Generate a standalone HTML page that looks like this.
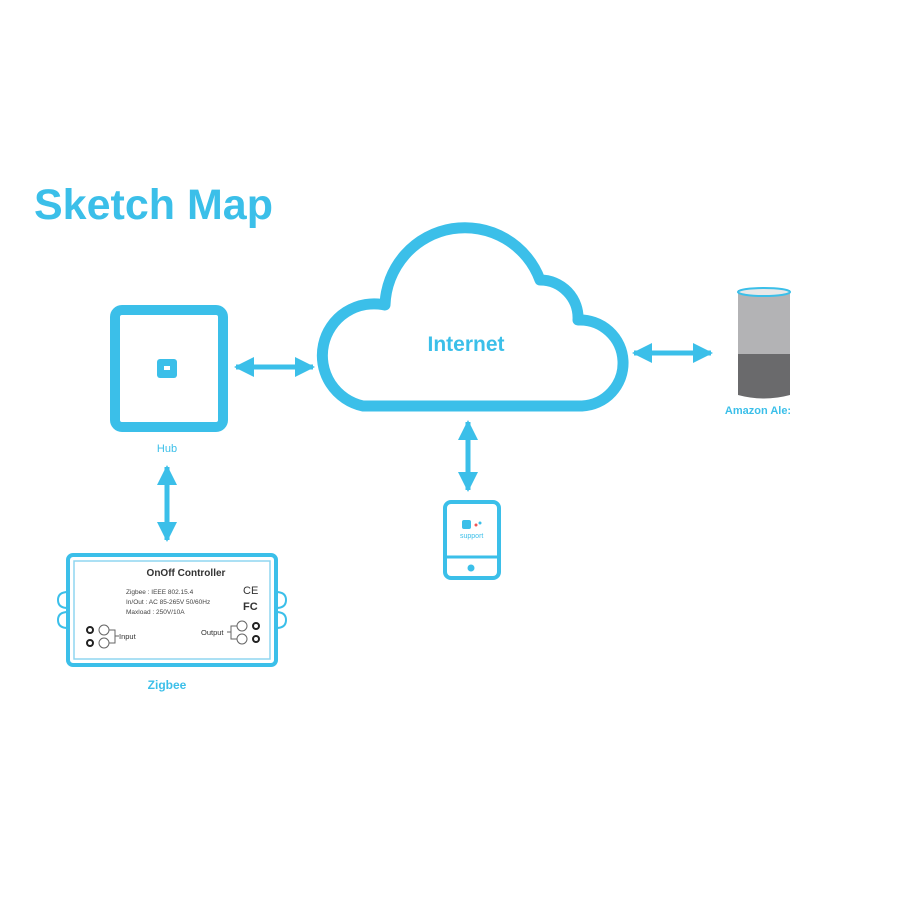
<!DOCTYPE html>
<html><head><style>
body{margin:0;background:#fff;}
svg{display:block}
text{font-family:"Liberation Sans",sans-serif}
</style></head><body>
<svg width="900" height="900" viewBox="0 0 900 900">
<defs>
<marker id="ah" viewBox="0 0 10 10" refX="9" refY="5" markerWidth="4" markerHeight="4" orient="auto-start-reverse">
<path d="M0,0 L10,5 L0,10 z" fill="#3bbfe9"/></marker>
</defs>
<text x="34" y="219" font-size="43" font-weight="bold" fill="#3bbfe9">Sketch Map</text>
<!-- hub -->
<rect x="115" y="310" width="108" height="117" rx="7" fill="none" stroke="#3bbfe9" stroke-width="10"/>
<rect x="157" y="359" width="20" height="19" rx="3" fill="#3bbfe9"/>
<rect x="164" y="366" width="6" height="4" fill="#fff"/>
<text x="167" y="452" font-size="11" fill="#3bbfe9" text-anchor="middle">Hub</text>
<!-- cloud -->
<path d="M363,406 L582,406 A43,43 0 0 0 578,320 A38,38 0 0 0 540,280 A80,80 0 0 0 385,305 A51,51 0 0 0 363,406 Z" fill="#fff" stroke="#3bbfe9" stroke-width="11" stroke-linejoin="round"/>
<text x="466" y="351" font-size="21" font-weight="bold" fill="#3bbfe9" text-anchor="middle">Internet</text>
<!-- arrows -->
<g stroke="#3bbfe9" stroke-width="5" marker-start="url(#ah)" marker-end="url(#ah)">
<line x1="236" y1="367" x2="313" y2="367"/>
<line x1="634" y1="353" x2="711" y2="353"/>
<line x1="468" y1="422" x2="468" y2="490"/>
<line x1="167" y1="467" x2="167" y2="540"/>
</g>
<!-- alexa -->
<rect x="738" y="290" width="52" height="66" fill="#b3b3b5"/>
<path d="M738,354 L790,354 L790,395 Q764,402 738,395 Z" fill="#6a6a6c"/>
<ellipse cx="764" cy="292" rx="26" ry="4" fill="#e8e8e8" stroke="#3bbfe9" stroke-width="2"/>
<text x="758" y="414" font-size="11" font-weight="bold" fill="#3bbfe9" text-anchor="middle">Amazon Ale:</text>
<!-- phone -->
<rect x="445" y="502" width="54" height="76" rx="6" fill="#fff" stroke="#3bbfe9" stroke-width="4"/>
<line x1="445" y1="557" x2="499" y2="557" stroke="#3bbfe9" stroke-width="3"/>
<circle cx="471" cy="568" r="3.5" fill="#3bbfe9"/>
<rect x="462" y="520" width="9" height="9" rx="2" fill="#3bbfe9"/>
<text x="460" y="538" font-size="7" fill="#3bbfe9">support</text>
<circle cx="476" cy="525" r="1.5" fill="#e55"/><circle cx="480" cy="523" r="1.5" fill="#3bbfe9"/>
<!-- zigbee box -->
<rect x="68" y="555" width="208" height="110" rx="5" fill="#fff" stroke="#3bbfe9" stroke-width="4"/>
<rect x="74" y="561" width="196" height="98" fill="none" stroke="#8fd6f0" stroke-width="1.5"/>
<path d="M68,592 q-10,0 -10,8 q0,8 10,8 M68,612 q-10,0 -10,8 q0,8 10,8 M276,592 q10,0 10,8 q0,8 -10,8 M276,612 q10,0 10,8 q0,8 -10,8" fill="none" stroke="#3bbfe9" stroke-width="2"/>
<text x="186" y="576" font-size="10" font-weight="bold" fill="#333" text-anchor="middle">OnOff Controller</text>
<text x="126" y="594" font-size="6.5" fill="#444">Zigbee : IEEE 802.15.4</text>
<text x="126" y="604" font-size="6.5" fill="#444">In/Out : AC 85-265V 50/60Hz</text>
<text x="126" y="614" font-size="6.5" fill="#444">Maxload : 250V/10A</text>
<text x="243" y="594" font-size="11" fill="#333">CE</text>
<text x="243" y="610" font-size="11" font-weight="bold" fill="#333">FC</text>
<g fill="none" stroke="#222" stroke-width="2"><circle cx="90" cy="630" r="3"/><circle cx="90" cy="643" r="3"/><circle cx="256" cy="626" r="3"/><circle cx="256" cy="639" r="3"/></g>
<g fill="none" stroke="#666" stroke-width="1"><circle cx="104" cy="630" r="5"/><circle cx="104" cy="643" r="5"/><circle cx="242" cy="626" r="5"/><circle cx="242" cy="639" r="5"/>
<path d="M109,630 h6 v13 h-6 M115,636 h4 M237,626 h-6 v13 h6 M231,632 h-4"/></g>
<text x="119" y="639" font-size="7.5" fill="#333">Input</text>
<text x="201" y="635" font-size="7.5" fill="#333">Output</text>
<text x="167" y="689" font-size="12" font-weight="bold" fill="#3bbfe9" text-anchor="middle">Zigbee</text>
</svg>
</body></html>
